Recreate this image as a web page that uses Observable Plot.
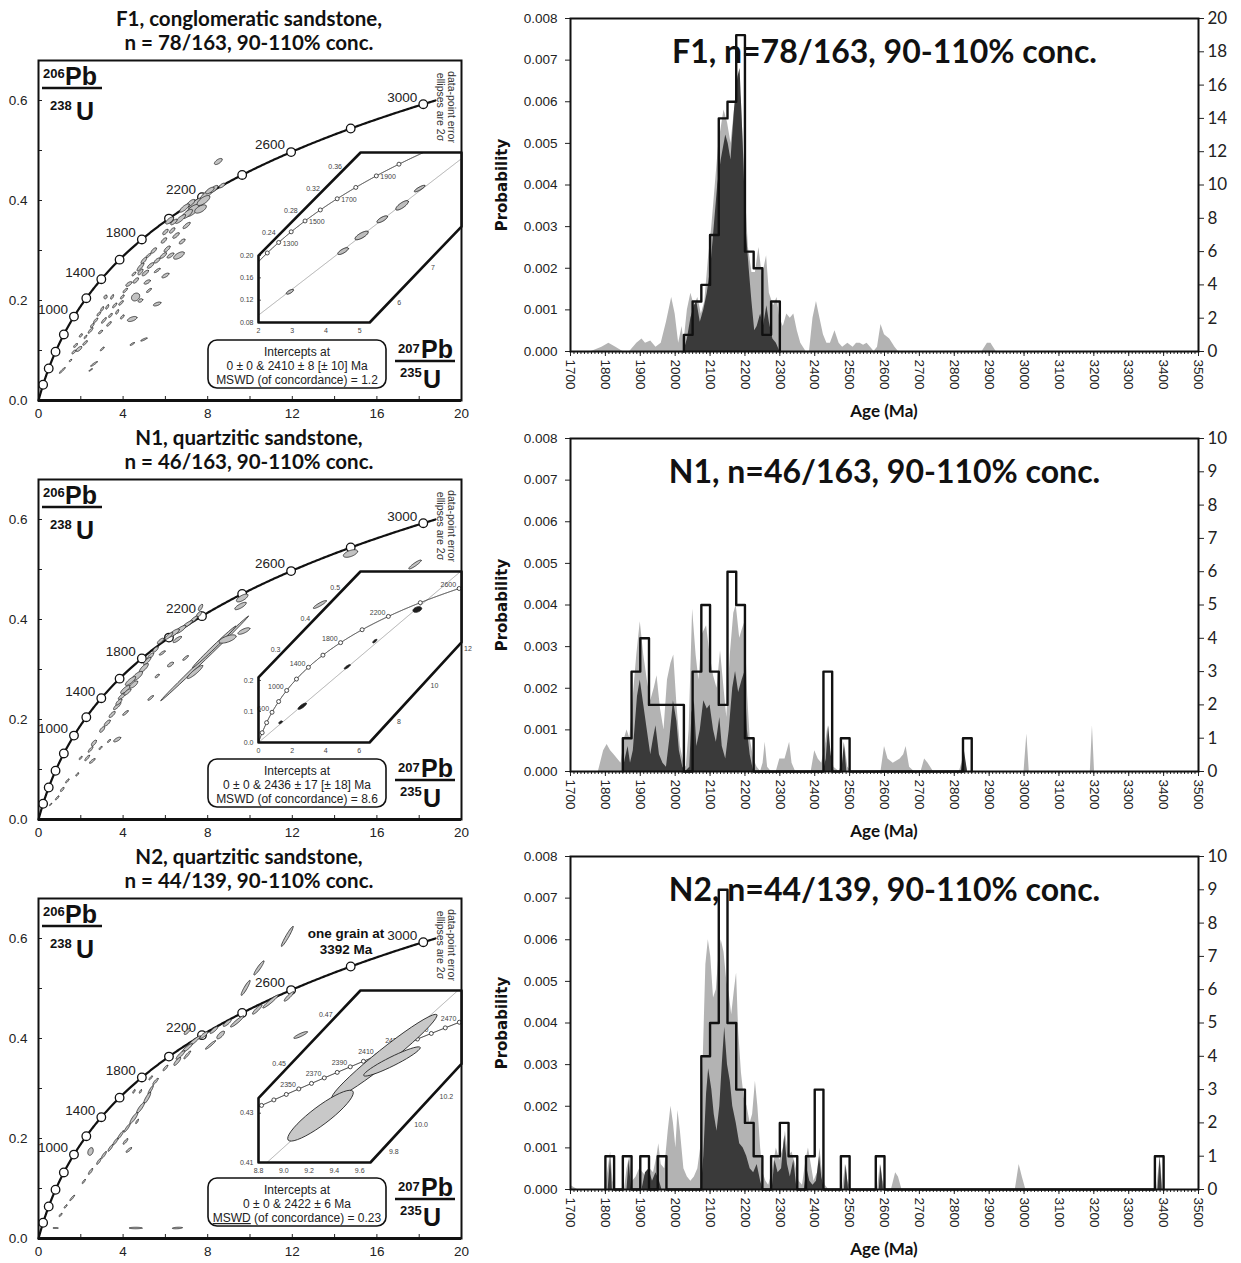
<!DOCTYPE html>
<html><head><meta charset="utf-8">
<script src="https://cdn.jsdelivr.net/npm/d3@7"></script>
<script src="https://cdn.jsdelivr.net/npm/@observablehq/plot@0.6"></script>
<style>
body{margin:0;background:#fff;}
#root{position:relative;width:1241px;height:1263px;overflow:hidden;background:#fff;}
#root > svg{position:absolute;}
</style></head><body><div id="root"></div>
<script>
// ---------------- DATA ----------------
const sampleIds = ["F1", "N1", "N2"];
const leftTitles1 = ["F1, conglomeratic sandstone,", "N1, quartzitic sandstone,", "N2, quartzitic sandstone,"];
const leftTitles2 = ["n = 78/163, 90-110% conc.", "n = 46/163, 90-110% conc.", "n = 44/139, 90-110% conc."];
const rightTitles = ["F1, n=78/163, 90-110% conc.", "N1, n=46/163, 90-110% conc.", "N2, n=44/139, 90-110% conc."];
const interceptLines = [
  ["Intercepts at", "0 ± 0 & 2410 ± 8 [± 10] Ma", "MSWD (of concordance) = 1.2"],
  ["Intercepts at", "0 ± 0 & 2436 ± 17 [± 18] Ma", "MSWD (of concordance) = 8.6"],
  ["Intercepts at", "0 ± 0 & 2422 ± 6 Ma", "MSWD (of concordance) = 0.23"]
];
const upperInterceptAges = [2410, 2436, 2422];

// concordia ages
const concordiaCircleAges = d3.range(200, 3001, 200);
const concordiaLabelAges = [1000, 1400, 1800, 2200, 2600, 3000];
const concordiaXTicks = [0, 4, 8, 12, 16, 20];
const concordiaYTicks = [0, 0.2, 0.4, 0.6];

// ellipses: [207Pb/235U, 206Pb/238U, length px, width px, angle deg]
const f1Ellipses = [
  [7.50,0.393,20,8,35],[7.27,0.380,17,7,40],[7.97,0.413,17,5,40],[7.03,0.373,13,5,40],[6.71,0.363,13,4,40],
  [7.66,0.383,13,6,30],[8.29,0.423,10,4,40],[8.50,0.478,9,4,35],[8.68,0.430,7,3,35],[6.40,0.357,8,3,40],
  [7.20,0.395,10,4,40],[6.90,0.385,12,4,40],[7.80,0.400,15,6,35],[6.20,0.360,10,4,40],[8.10,0.420,10,4,35],
  [6.00,0.337,7,3,45],[6.32,0.340,7,3,45],[6.79,0.318,7,3,40],[5.93,0.320,7,3,45],[6.08,0.303,8,3,45],
  [6.64,0.290,12,5,30],[6.24,0.290,8,3,35],[5.61,0.280,7,3,40],[4.98,0.280,8,3,50],[4.82,0.267,10,3,50],
  [5.30,0.270,8,3,40],[5.61,0.260,7,2,35],[6.00,0.250,8,3,30],[4.82,0.257,7,3,50],[4.51,0.253,5,2,45],
  [5.14,0.237,7,3,30],[4.27,0.233,7,3,35],[5.22,0.220,6,2,40],[4.59,0.207,9,7,40],[4.82,0.200,5,3,30],
  [3.96,0.207,5,2,50],[3.48,0.207,5,2,60],[3.17,0.207,4,3,60],[5.61,0.193,8,3,20],[3.25,0.187,5,2,60],
  [3.01,0.183,5,2,60],[2.85,0.173,5,2,50],[3.72,0.177,5,2,60],[3.96,0.167,5,2,50],[4.43,0.163,10,4,20],
  [3.09,0.160,7,2,50],[3.33,0.153,6,2,45],[2.54,0.150,5,2,50],[2.46,0.140,7,2,50],[2.93,0.137,5,2,40],
  [2.22,0.127,4,1.5,55],[1.75,0.110,5,2,45],[1.91,0.103,7,3,40],[1.67,0.097,5,2,45],[3.01,0.103,5,1.5,45],
  [4.43,0.113,5,1.5,30],[4.98,0.122,7,1.5,25],[1.12,0.060,8,1.5,45],[2.62,0.073,8,1.5,35],[2.46,0.061,4,1,35],
  [1.51,0.080,3,1.5,45],
  [5.90,0.290,8,3,40],[5.45,0.300,7,3,45],[5.05,0.255,8,3,40],[4.60,0.240,7,3,45],[4.10,0.220,6,2,45],
  [3.60,0.190,6,2,50],[3.40,0.170,5,2,50],[2.70,0.160,6,2,50],[2.20,0.115,6,2,45],[2.00,0.130,4,2,50],
  [6.50,0.330,8,3,40],[7.00,0.350,9,3,40],[5.20,0.290,6,2,40],[3.90,0.195,6,2,45]
];
const n1Ellipses = [
  [7.66,0.424,7,3,60],[7.58,0.410,8,3,50],[7.34,0.400,10,3,40],[7.03,0.390,13,3,35],[6.71,0.380,13,4,35],
  [6.40,0.373,13,4,35],[6.16,0.367,10,3,40],[6.56,0.360,10,3,35],[5.77,0.357,8,3,40],[5.53,0.340,7,3,45],
  [5.30,0.327,8,3,45],[5.14,0.317,10,3,45],[4.98,0.303,12,4,45],[4.67,0.287,13,5,40],[4.35,0.277,13,4,40],
  [4.11,0.260,12,4,40],[3.96,0.247,10,3,40],[3.72,0.227,10,3,45],[3.48,0.210,8,3,45],[3.25,0.193,8,3,45],
  [3.01,0.180,7,3,50],[3.72,0.160,8,3,30],[2.62,0.153,7,3,50],[2.46,0.140,7,2,50],[2.30,0.123,7,2,50],
  [2.54,0.117,7,2,40],[1.99,0.123,4,1.5,50],[1.83,0.090,4,1.5,50],[1.36,0.077,5,1.5,50],[1.12,0.060,5,2,50],
  [0.88,0.043,5,1.5,50],[0.57,0.030,3,1,50],[5.85,0.333,7,2,35],[6.24,0.310,7,3,35],[6.95,0.323,7,2,40],
  [5.61,0.287,5,2,40],[5.30,0.243,7,2,40],[4.11,0.213,7,2,40],[3.33,0.157,4,1.5,45],[2.93,0.143,4,1.5,45],
  [4.50,0.270,10,4,40],[4.20,0.255,9,3,40],[3.80,0.235,8,3,45],
  [9.63,0.443,13,5,30],[9.55,0.427,13,4,30],[9.71,0.377,13,4,25],[7.85,0.322,122,3,44],[8.30,0.345,60,3,44],
  [8.94,0.361,18,6,20],[7.40,0.295,20,4,40],[14.75,0.532,15,6,20],[17.80,0.510,15,3,35],[13.30,0.430,15,3,30]
];
const n2Ellipses = [
  [11.76,0.604,23,3,60],[10.42,0.541,17,3,55],[9.79,0.501,17,3,60],[12.39,0.407,15,3,25],[11.84,0.484,13,3,45],
  [10.97,0.474,20,3,40],[10.34,0.458,13,3,45],[9.39,0.434,17,3,40],[8.61,0.407,10,4,45],[8.13,0.387,13,2,40],
  [8.92,0.431,10,3,40],[8.29,0.417,10,3,40],[7.82,0.407,10,3,40],[7.03,0.414,8,3,45],[7.34,0.394,17,3,40],
  [7.03,0.381,13,3,40],[6.71,0.367,12,3,45],[6.56,0.354,10,3,50],[7.03,0.367,10,2,50],[6.00,0.341,7,2,50],
  [5.53,0.314,8,2,50],[5.30,0.297,10,2,60],[5.14,0.281,13,3,60],[4.82,0.261,13,3,55],[4.51,0.241,13,3,55],
  [4.19,0.221,10,2,55],[3.88,0.207,10,2,55],[3.64,0.194,8,2,55],[3.40,0.181,8,2,55],[3.09,0.167,8,2,55],
  [2.85,0.154,7,2,55],[2.46,0.134,7,2,55],[2.14,0.114,5,1.5,55],[1.59,0.081,7,1.5,50],[1.28,0.064,4,1.5,50],
  [1.04,0.047,4,1.5,50],[2.46,0.174,8,5,70],[4.27,0.177,7,2,40],[4.11,0.194,7,2,50],[4.66,0.234,5,1.5,60],
  [4.82,0.294,4,1.5,60],[4.51,0.294,4,1.5,60],[4.59,0.021,13,1.5,0],[6.56,0.021,10,1.5,3],[0.80,0.021,5,1,0],
  [5.30,0.321,5,1.5,50]
];

// inset ellipses (inset data units)
const f1InsetEllipses = [[2.93,0.135,8,3,30],[4.51,0.208,12,4,30],[5.06,0.236,15,5,30],[5.67,0.265,12,4,30],[6.26,0.290,15,5,35],[6.78,0.320,12,3,30]];
const n1InsetEllipses = [[2.60,0.117,10,3,35],[1.31,0.065,4,2,35],[5.28,0.244,7,2,35],[6.92,0.327,5,2,40],[9.45,0.429,9,5,20]];
const n2InsetEllipses = [[9.795,0.453,134,15,38.6],[9.29,0.429,81,18,37],[9.855,0.451,63,9,26.5]];

// probability density curves [age Ma, probability]
const f1PdpAll = [[1760,0],[1790,0.0001],[1810,0.0002],[1830,0.0001],[1850,0],[1870,0],[1890,0.0002],[1905,0.0003],[1915,0.0002],[1930,0.00025],[1945,0.0001],[1960,0.0002],[1975,0.0007],[1990,0.0013],[2000,0.0009],[2010,0.0002],[2020,0.0006],[2025,0.0002],[2035,0.0010],[2045,0.0014],[2055,0.0011],[2065,0.0013],[2075,0.0009],[2085,0.0012],[2095,0.0022],[2105,0.0030],[2115,0.0040],[2125,0.0050],[2140,0.0058],[2150,0.0055],[2160,0.0050],[2170,0.0058],[2180,0.0066],[2190,0.0060],[2200,0.0040],[2210,0.0025],[2220,0.0019],[2230,0.0019],[2240,0.0025],[2250,0.0018],[2262,0.0023],[2270,0.0014],[2282,0.0011],[2292,0.0013],[2300,0.0008],[2310,0.0006],[2320,0.0009],[2330,0.0008],[2340,0.0009],[2350,0.0005],[2360,0.0002],[2375,0],[2385,0],[2395,0.0008],[2405,0.0012],[2415,0.0008],[2425,0.0004],[2435,0.0002],[2445,0.0002],[2458,0.0005],[2470,0.0002],[2480,0.0001],[2495,0.0002],[2510,0.0001],[2520,0.0002],[2530,0.0002],[2540,0.00015],[2550,0.0002],[2560,0.0001],[2570,0],[2580,0.0001],[2590,0.00065],[2600,0.0004],[2615,0.0003],[2630,0.0001],[2640,0],[2880,0],[2895,0.0002],[2905,0.0002],[2920,0]];
const f1PdpConc = [[2025,0],[2035,0.0003],[2045,0.0008],[2055,0.0011],[2062,0.0012],[2072,0.0007],[2082,0.0010],[2092,0.0014],[2102,0.0020],[2112,0.0030],[2122,0.0040],[2132,0.0046],[2145,0.0052],[2152,0.0050],[2160,0.0046],[2170,0.0058],[2180,0.0066],[2186,0.0068],[2195,0.0050],[2203,0.0030],[2212,0.0020],[2220,0.0012],[2228,0.0005],[2235,0.0006],[2245,0.0009],[2253,0.0006],[2263,0.0011],[2270,0.0007],[2280,0.0003],[2290,0.0002],[2300,0]];
const n1PdpAll = [[1780,0],[1795,0.0005],[1805,0.00065],[1815,0.0005],[1825,0.0004],[1835,0.0003],[1845,0.0002],[1855,0.0008],[1862,0.0010],[1870,0.0008],[1880,0.0018],[1890,0.0028],[1900,0.0036],[1910,0.0028],[1920,0.0022],[1930,0.0017],[1940,0.0020],[1948,0.0023],[1958,0.0015],[1968,0.0010],[1978,0.0022],[1988,0.0026],[1996,0.0028],[2005,0.0016],[2015,0.0006],[2025,0.0002],[2032,0.0001],[2040,0.0010],[2050,0.0039],[2060,0.0028],[2068,0.0022],[2078,0.0033],[2090,0.0035],[2100,0.0028],[2110,0.0023],[2120,0.0020],[2130,0.0029],[2140,0.0020],[2148,0.0013],[2158,0.0028],[2168,0.0038],[2175,0.0040],[2185,0.0032],[2192,0.0034],[2200,0.0036],[2208,0.0018],[2215,0.0008],[2225,0.0003],[2235,0.0001],[2245,0],[2252,0.0002],[2258,0.0007],[2265,0.0001],[2275,0],[2290,0],[2300,0.0003],[2315,0.0003],[2328,0.0007],[2335,0.0002],[2345,0],[2390,0],[2400,0.0005],[2410,0.0003],[2420,0.0002],[2430,0.0006],[2438,0.0011],[2445,0.0005],[2455,0.0001],[2470,0],[2480,0.0002],[2487,0.0006],[2495,0.0001],[2505,0],[2590,0],[2600,0.0006],[2610,0.0003],[2625,0.0002],[2645,0.0003],[2655,0.0004],[2662,0.0006],[2672,0.0001],[2685,0],[2705,0],[2715,0.0003],[2725,0.0002],[2740,0],[2815,0],[2828,0.0004],[2838,0],[3000,0],[3008,0.0009],[3015,0],[3190,0],[3196,0.0011],[3202,0]];
const n1PdpConc = [[1850,0],[1857,0.0003],[1865,0.0006],[1872,0.0002],[1880,0.0005],[1892,0.0018],[1900,0.0022],[1910,0.0016],[1920,0.0010],[1930,0.0004],[1938,0.0008],[1945,0.0011],[1955,0.0004],[1965,0.0002],[1975,0.0001],[1985,0.0008],[1995,0.0017],[2005,0.0012],[2012,0.0005],[2022,0.0001],[2030,0],[2042,0.0001],[2048,0.0014],[2055,0.0017],[2062,0.0006],[2072,0.0010],[2082,0.0017],[2092,0.0015],[2100,0.0016],[2110,0.0010],[2118,0.0007],[2128,0.0013],[2135,0.0006],[2145,0.0003],[2155,0.0010],[2165,0.0020],[2173,0.0024],[2182,0.0019],[2192,0.0022],[2200,0.0024],[2207,0.0010],[2215,0.0004],[2225,0],[2425,0],[2433,0.0003],[2440,0.0011],[2447,0.0004],[2455,0],[2478,0],[2485,0.0007],[2492,0],[2820,0],[2829,0.0005],[2838,0]];
const n2PdpAll = [[1700,0.0001],[1710,0.00005],[1720,0],[1800,0],[1808,0.0005],[1815,0.0009],[1822,0.0002],[1830,0],[1855,0],[1862,0.0005],[1870,0.0008],[1878,0.0002],[1888,0.0003],[1898,0.0005],[1908,0.0004],[1918,0.0003],[1928,0.0005],[1938,0.0004],[1948,0.0008],[1953,0.0011],[1960,0.0006],[1970,0.0005],[1980,0.0014],[1988,0.0020],[1995,0.0016],[2002,0.0010],[2008,0.0019],[2015,0.0014],[2025,0.0005],[2035,0.0003],[2045,0.0002],[2055,0.0003],[2065,0.0005],[2073,0.0010],[2080,0.0030],[2088,0.0054],[2095,0.0060],[2102,0.0056],[2110,0.0046],[2118,0.0048],[2125,0.0056],[2132,0.0060],[2140,0.0057],[2148,0.0050],[2155,0.0047],[2162,0.0042],[2170,0.0048],[2176,0.0052],[2182,0.0038],[2190,0.0028],[2198,0.0022],[2206,0.0020],[2215,0.0016],[2222,0.0018],[2230,0.0026],[2237,0.0020],[2245,0.0010],[2252,0.0004],[2260,0.0002],[2268,0.0001],[2278,0.0004],[2290,0.0010],[2300,0.0007],[2310,0.0010],[2316,0.0014],[2325,0.0008],[2335,0.0009],[2345,0.0006],[2355,0.0002],[2365,0.0001],[2375,0.0007],[2382,0.0010],[2390,0.0006],[2398,0.0002],[2408,0.0004],[2415,0.0010],[2422,0.0004],[2430,0.0001],[2440,0],[2480,0],[2488,0.0006],[2495,0.0002],[2505,0],[2580,0],[2588,0.0006],[2596,0.0002],[2605,0],[2620,0],[2632,0.0004],[2640,0.0003],[2650,0],[2975,0],[2986,0.0006],[2995,0.0003],[3005,0],[3380,0],[3390,0.0008],[3398,0]];
const n2PdpConc = [[1808,0],[1815,0.0008],[1820,0],[1862,0],[1868,0.0007],[1875,0],[1905,0],[1915,0.0004],[1925,0.0005],[1935,0.0002],[1945,0.0004],[1955,0.0002],[1962,0],[2075,0],[2082,0.0008],[2090,0.0023],[2096,0.0029],[2105,0.0024],[2112,0.0018],[2120,0.0014],[2128,0.0020],[2135,0.0030],[2142,0.0039],[2150,0.0030],[2158,0.0026],[2165,0.0020],[2175,0.0016],[2185,0.0011],[2195,0.0010],[2205,0.0008],[2215,0.0005],[2225,0.0004],[2235,0.0006],[2245,0.0002],[2252,0],[2278,0],[2286,0.0007],[2295,0.0004],[2305,0.0005],[2314,0.0013],[2322,0.0006],[2330,0.0003],[2340,0.0007],[2348,0.0001],[2355,0],[2370,0],[2378,0.0005],[2386,0.0002],[2395,0.0001],[2405,0.0002],[2414,0.0008],[2420,0.0003],[2428,0],[2485,0],[2490,0.0006],[2497,0],[2585,0],[2590,0.0006],[2597,0],[3384,0],[3390,0.0008],[3396,0]];

// histograms: 25 Ma bins (start age) and counts
const binWidth = 25;
const f1BinStart = [2025,2050,2075,2100,2125,2150,2175,2200,2225,2250,2275];
const f1BinCount = [1,3,4,7,14,15,19,6,5,1,3];
const n1BinStart = [1850,1875,1900,1925,1950,1975,2000,2050,2075,2100,2125,2150,2175,2200,2425,2475,2825];
const n1BinCount = [1,3,4,2,2,2,2,3,5,3,2,6,5,1,3,1,1];
const n2BinStart = [1800,1850,1900,1950,2075,2100,2125,2150,2175,2200,2225,2275,2300,2325,2375,2400,2475,2575,3375];
const n2BinCount = [1,1,1,1,4,5,9,5,3,2,1,1,2,1,1,3,1,1,1];
const countAxisMax = [20, 10, 10];
const countAxisStep = [2, 1, 1];
const probTicks = [0, 0.001, 0.002, 0.003, 0.004, 0.005, 0.006, 0.007, 0.008];
const ageMajorTicks = d3.range(1700, 3501, 100);
const ageMinorTicks = d3.range(1700, 3501, 10);

// insets
const insetSpecs = [
  {xDomain:[2, 8.024], yDomain:[0.08, 0.3847], hPx:170,
   hex:[[2,0.08],[5.30,0.08],[8.024,0.252],[8.024,0.3847],[5.03,0.3847],[2,0.20]],
   circleAges:d3.range(1100, 2201, 100), labelAges:[1300,1500,1700,1900], labelAnchor:"start", labelDx:4, labelDy:1,
   leftTicks:[0.08,0.12,0.16,0.20], bottomTicks:[2,3,4,5], diagYTicks:[0.24,0.28,0.32,0.36], diagXTicks:[6,7],
   yFmt:".2f", xFmt:"d", ellipses:f1InsetEllipses, ellipseFill:"#bdbdbd"},
  {xDomain:[0, 12.083], yDomain:[0, 0.5516], hPx:171,
   hex:[[0,0],[6.61,0],[12.083,0.323],[12.083,0.5516],[6.07,0.5516],[0,0.21]],
   circleAges:d3.range(200, 2801, 200), labelAges:[600,1000,1400,1800,2200,2600], labelAnchor:"end", labelDx:-3, labelDy:-4,
   leftTicks:[0,0.1,0.2], bottomTicks:[0,2,4,6], diagYTicks:[0.3,0.4,0.5], diagXTicks:[8,10,12],
   yFmt:".1f", xFmt:"d", ellipses:n1InsetEllipses, ellipseFill:"#1e1e1e"},
  {xDomain:[8.8, 10.405], yDomain:[0.41, 0.4798], hPx:172,
   hex:[[8.8,0.41],[9.685,0.41],[10.405,0.450],[10.405,0.4798],[9.606,0.4798],[8.8,0.4361]],
   circleAges:d3.range(2300, 2501, 10), labelAges:[2350,2370,2390,2410,2430,2450,2470], labelAnchor:"end", labelDx:-3, labelDy:-4,
   leftTicks:[0.41,0.43], bottomTicks:[8.8,9.0,9.2,9.4,9.6], diagYTicks:[0.45,0.47], diagXTicks:[9.8,10.0,10.2],
   yFmt:".2f", xFmt:".1f", ellipses:n2InsetEllipses, ellipseFill:"#c8c8c8"}
];

// ---------------- LAYOUT ----------------
const LEFT_TOP = [60, 479, 898];
const RIGHT_TOP = [18, 438, 856];
const PROB_LEFT = 570, PROB_RIGHT = 1198, PROB_H = 333;
const NARROW = "'Liberation Sans Narrow','Arial Narrow',sans-serif";
const LATO = "Lato,'Open Sans',sans-serif";

const LAMBDA238 = 1.55125e-4, LAMBDA235 = 9.8485e-4; // per Ma
const concordia = t => ({age: t, x: Math.expm1(LAMBDA235 * t), y: Math.expm1(LAMBDA238 * t)});

function ellipsePoints(list, kx, ky) {
  const pts = [];
  list.forEach(([x, y, len, wid, ang], i) => {
    const a = ang * Math.PI / 180;
    for (let k = 0; k < 40; k++) {
      const t = k / 40 * 2 * Math.PI;
      const u = len / 2 * Math.cos(t), v = wid / 2 * Math.sin(t);
      pts.push({id: i, x: x + (u * Math.cos(a) - v * Math.sin(a)) / kx, y: y + (u * Math.sin(a) + v * Math.cos(a)) / ky});
    }
  });
  return pts;
}

function stepOutline(starts, counts, w) {
  const pts = [];
  starts.forEach((s, i) => {
    const prevEnd = i > 0 ? starts[i - 1] + w : null;
    if (prevEnd === null || prevEnd !== s) {
      if (prevEnd !== null) pts.push({x: prevEnd, c: 0});
      pts.push({x: s, c: 0});
    }
    pts.push({x: s, c: counts[i]}, {x: s + w, c: counts[i]});
  });
  pts.push({x: starts[starts.length - 1] + w, c: 0});
  return pts;
}

function insidePoly(poly, x, y, kx, ky) {
  let inside = false;
  const X = x * kx, Y = y * ky;
  for (let i = 0, j = poly.length - 1; i < poly.length; j = i++) {
    const xi = poly[i][0] * kx, yi = poly[i][1] * ky, xj = poly[j][0] * kx, yj = poly[j][1] * ky;
    if (((yi > Y) !== (yj > Y)) && (X < (xj - xi) * (Y - yi) / (yj - yi) + xi)) inside = !inside;
  }
  return inside;
}

const root = document.getElementById("root");
function place(el, left, top) { el.style.left = left + "px"; el.style.top = top + "px"; root.appendChild(el); }

const ellipseSets = [f1Ellipses, n1Ellipses, n2Ellipses];
const pdpAll = [f1PdpAll, n1PdpAll, n2PdpAll];
const pdpConc = [f1PdpConc, n1PdpConc, n2PdpConc];
const binStarts = [f1BinStart, n1BinStart, n2BinStart];
const binCounts = [f1BinCount, n1BinCount, n2BinCount];

const mainCurve = d3.range(0, 3031, 5).map(concordia);

sampleIds.forEach((id, r) => {
  // ---- concordia diagram ----
  const kx = 423 / 20, ky = 340 / 0.68;
  const conc = Plot.plot({
    width: 470, height: 388, marginTop: 20, marginBottom: 28, marginLeft: 38, marginRight: 9,
    x: {domain: [0, 20], label: null}, y: {domain: [0, 0.68], label: null},
    style: {fontFamily: NARROW, fontSize: "13px", color: "#222", background: "transparent"},
    marks: [
      Plot.axisY({ticks: concordiaYTicks, tickSize: 0, tickPadding: 11, tickFormat: d3.format(".1f"), fontSize: 13.5}),
      Plot.axisY({ticks: [0.1, 0.2, 0.3, 0.4, 0.5, 0.6], tickSize: -4, tickFormat: () => ""}),
      Plot.axisX({ticks: concordiaXTicks, tickSize: 0, tickPadding: 8, fontSize: 13.5}),
      Plot.axisX({ticks: [2, 4, 6, 8, 10, 12, 14, 16, 18], tickSize: -4, tickFormat: () => ""}),
      Plot.text(concordiaLabelAges.map(concordia), {x: "x", y: "y", text: d => String(d.age), dx: -21, dy: -7, fontSize: 13.5, fill: "#222"}),
      Plot.line(mainCurve, {x: "x", y: "y", stroke: "#111", strokeWidth: 2.2}),
      Plot.dot(concordiaCircleAges.map(concordia), {x: "x", y: "y", r: 4.3, fill: "white", stroke: "#111", strokeWidth: 1.3}),
      Plot.line(ellipsePoints(ellipseSets[r], kx, ky), {x: "x", y: "y", z: "id", curve: "linear-closed", fill: "#c2c2c2", stroke: "#2a2a2a", strokeWidth: 0.8}),
      Plot.frame({stroke: "#111", strokeWidth: 2}),
      Plot.ruleY([0], {stroke: "#111", strokeWidth: 3})
    ]
  });
  place(conc, 0, LEFT_TOP[r] - 20);

  // ---- inset ----
  const s = insetSpecs[r];
  const wPx = 203;
  const ikx = wPx / (s.xDomain[1] - s.xDomain[0]), iky = s.hPx / (s.yDomain[1] - s.yDomain[0]);
  const inHex = p => insidePoly(s.hex, p.x, p.y, ikx, iky);
  const hexPts = s.hex.map(([x, y]) => ({x, y}));
  const [lv, tl] = [s.hex[5], s.hex[4]];
  const [bv, rv] = [s.hex[1], s.hex[2]];
  const diagXat = y => lv[0] + (y - lv[1]) * (tl[0] - lv[0]) / (tl[1] - lv[1]);
  const diagYat = x => bv[1] + (x - bv[0]) * (rv[1] - bv[1]) / (rv[0] - bv[0]);
  const ui = concordia(upperInterceptAges[r]);
  const slope = ui.y / ui.x;
  const xr = s.xDomain[1] - s.xDomain[0];
  const disc = d3.range(0, 1.0001, 0.0025).map(f => {
    const x = s.xDomain[0] + f * xr;
    return {x, y: slope * x};
  }).filter(inHex);
  const iCurve = d3.range(0, 3200, 0.5).map(concordia).filter(inHex);
  const iCircles = s.circleAges.map(concordia).filter(inHex);
  const iLabels = s.labelAges.map(concordia).filter(inHex);
  const fx = d3.format(s.xFmt), fy = d3.format(s.yFmt);
  const tiny = {fontSize: 7, fill: "#444", fontFamily: NARROW};
  const tickLen = 3 / ikx;
  const inset = Plot.plot({
    width: 22 + wPx + 2, height: 2 + s.hPx + 12, marginLeft: 22, marginRight: 2, marginTop: 2, marginBottom: 12,
    axis: null,
    x: {type: "linear", domain: s.xDomain, label: null}, y: {type: "linear", domain: s.yDomain, label: null},
    style: {background: "transparent", fontFamily: NARROW, overflow: "visible"},
    marks: [
      Plot.line(hexPts, {x: "x", y: "y", curve: "linear-closed", fill: "white", stroke: "none"}),
      Plot.line(disc, {x: "x", y: "y", stroke: "#8a8a8a", strokeWidth: 0.7}),
      Plot.line(iCurve, {x: "x", y: "y", stroke: "#222", strokeWidth: 1}),
      Plot.dot(iCircles, {x: "x", y: "y", r: 2, fill: "white", stroke: "#222", strokeWidth: 0.8}),
      Plot.text(iLabels, {x: "x", y: "y", text: d => String(d.age), textAnchor: s.labelAnchor, dx: s.labelDx, dy: s.labelDy, ...tiny}),
      Plot.line(ellipsePoints(s.ellipses, ikx, iky), {x: "x", y: "y", z: "id", curve: "linear-closed", fill: s.ellipseFill, stroke: "#222", strokeWidth: 0.9}),
      Plot.ruleY(s.leftTicks, {x1: s.xDomain[0], x2: s.xDomain[0] + tickLen, y: d => d, stroke: "#333", strokeWidth: 0.8}),
      Plot.line(hexPts, {x: "x", y: "y", curve: "linear-closed", fill: "none", stroke: "#111", strokeWidth: 2.6}),
      Plot.text(s.leftTicks, {x: s.xDomain[0], y: d => d, text: d => fy(d), textAnchor: "end", dx: -5, ...tiny}),
      Plot.text(s.bottomTicks, {x: d => d, y: s.yDomain[0], text: d => fx(d), dy: 8, ...tiny}),
      Plot.text(s.diagYTicks, {x: d => diagXat(d), y: d => d, text: d => fy(d), textAnchor: "end", dx: -5, ...tiny}),
      Plot.text(s.diagXTicks, {x: d => d, y: d => diagYat(d), text: d => fx(d), textAnchor: "start", dx: 4, dy: 5, ...tiny})
    ]
  });
  place(inset, 258 - 22, LEFT_TOP[r] + 92 - 2);

  // ---- probability plot ----
  const unit = 0.008 / countAxisMax[r];
  const hist = stepOutline(binStarts[r], binCounts[r], binWidth).map(p => ({x: p.x, y: p.c * unit}));
  const countTicks = d3.range(0, countAxisMax[r] + 0.5, countAxisStep[r]).map(c => c * unit);
  const pw = 750;
  const prob = Plot.plot({
    width: pw, height: 10 + PROB_H + 60, marginTop: 10, marginBottom: 60, marginLeft: PROB_LEFT - 490, marginRight: pw - (PROB_RIGHT - 490),
    x: {domain: [1700, 3500], label: null}, y: {domain: [0, 0.008], label: null},
    style: {fontFamily: NARROW, fontSize: "13px", color: "#222", background: "transparent"},
    marks: [
      Plot.areaY(pdpAll[r], {x: d => d[0], y: d => d[1], fill: "#b3b3b3"}),
      Plot.areaY(pdpConc[r], {x: d => d[0], y: d => d[1], fill: "#3a3a3a"}),
      Plot.text([rightTitles[r]], {frameAnchor: "top", dy: 22, fontSize: 32, fontWeight: "bold", fontFamily: LATO, fill: "#111"}),
      Plot.line(hist, {x: "x", y: "y", stroke: "#111", strokeWidth: 2.4}),
      Plot.axisY({ticks: probTicks, tickFormat: d3.format(".3f"), tickSize: 5, tickPadding: 8, fontSize: 13.5}),
      Plot.axisY({anchor: "right", ticks: countTicks, tickFormat: d => String(Math.round(d / unit)), tickSize: 5, tickPadding: 4, fontSize: 17, fontFamily: LATO}),
      Plot.axisX({ticks: ageMinorTicks, tickSize: 3, tickFormat: () => ""}),
      Plot.axisX({ticks: ageMajorTicks, tickSize: 5, tickFormat: () => ""}),
      Plot.text(ageMajorTicks, {x: d => d, y: 0, text: d => String(d), rotate: 90, textAnchor: "start", dy: 8, fontSize: 13.5}),
      Plot.frame({stroke: "#111", strokeWidth: 2})
    ]
  });
  place(prob, 490, RIGHT_TOP[r] - 10);
});

// ---------------- ANNOTATIONS ----------------
const ov = d3.select(root).append("svg").attr("width", 1241).attr("height", 1263)
  .style("left", "0px").style("top", "0px").style("pointer-events", "none");
function txt(x, y, s, o = {}) {
  const t = ov.append("text").attr("x", x).attr("y", y).text(s)
    .attr("font-family", o.family || NARROW).attr("font-size", o.size || 12)
    .attr("font-weight", o.weight || "normal").attr("text-anchor", o.anchor || "start").attr("fill", o.fill || "#111");
  if (o.rotate) t.attr("transform", `rotate(${o.rotate},${x},${y})`);
  return t;
}
const BOLD = "'Liberation Sans',Arial,sans-serif";
sampleIds.forEach((id, r) => {
  const o = LEFT_TOP[r] - 60;
  txt(249, 26 + o, leftTitles1[r], {family: LATO, size: 20.5, weight: "bold", anchor: "middle"});
  txt(249, 50 + o, leftTitles2[r], {family: LATO, size: 20.5, weight: "bold", anchor: "middle"});
  // 206Pb/238U
  txt(43, 78 + o, "206", {family: BOLD, size: 13, weight: "bold"});
  txt(65, 85 + o, "Pb", {family: BOLD, size: 25, weight: "bold"});
  ov.append("line").attr("x1", 42).attr("x2", 102).attr("y1", 88 + o).attr("y2", 88 + o).attr("stroke", "#111").attr("stroke-width", 2.5);
  txt(50, 110 + o, "238", {family: BOLD, size: 13, weight: "bold"});
  txt(76, 120 + o, "U", {family: BOLD, size: 25, weight: "bold"});
  // 207Pb/235U
  txt(398, 353 + o, "207", {family: BOLD, size: 13, weight: "bold"});
  txt(421, 358 + o, "Pb", {family: BOLD, size: 25, weight: "bold"});
  ov.append("line").attr("x1", 395).attr("x2", 455).attr("y1", 361 + o).attr("y2", 361 + o).attr("stroke", "#111").attr("stroke-width", 2.5);
  txt(400, 377 + o, "235", {family: BOLD, size: 13, weight: "bold"});
  txt(423, 388 + o, "U", {family: BOLD, size: 25, weight: "bold"});
  // data-point error note
  txt(448, 107 + o, "data-point error", {size: 10.5, anchor: "middle", rotate: 90, fill: "#333"});
  txt(437, 107 + o, "ellipses are 2σ", {size: 10.5, anchor: "middle", rotate: 90, fill: "#333"});
  // intercept box
  ov.append("rect").attr("x", 208).attr("y", 340 + o).attr("width", 178).attr("height", 48).attr("rx", 9)
    .attr("fill", "white").attr("stroke", "#111").attr("stroke-width", 1.6);
  const L = interceptLines[r];
  txt(297, 356 + o, L[0], {size: 12, anchor: "middle", fill: "#222"});
  txt(297, 370 + o, L[1], {size: 12, anchor: "middle", fill: "#222"});
  if (r === 2) {
    const t = txt(297, 384 + o, "", {size: 12, anchor: "middle", fill: "#222"});
    t.append("tspan").attr("text-decoration", "underline").text("MSWD");
    t.append("tspan").text(" (of concordance) = 0.23");
  } else {
    txt(297, 384 + o, L[2], {size: 12, anchor: "middle", fill: "#222"});
  }
  // right panel labels
  const p = RIGHT_TOP[r] - 18;
  txt(507, 185 + p, "Probability", {family: "'DejaVu Sans',sans-serif", size: 15, weight: "bold", anchor: "middle", rotate: -90});
  txt((PROB_LEFT + PROB_RIGHT) / 2, 417 + p, "Age (Ma)", {family: LATO, size: 17, weight: "bold", anchor: "middle"});
});
txt(346, 938, "one grain at", {size: 13.5, weight: "bold", anchor: "middle"});
txt(346, 954, "3392 Ma", {size: 13.5, weight: "bold", anchor: "middle"});
</script></body></html>
